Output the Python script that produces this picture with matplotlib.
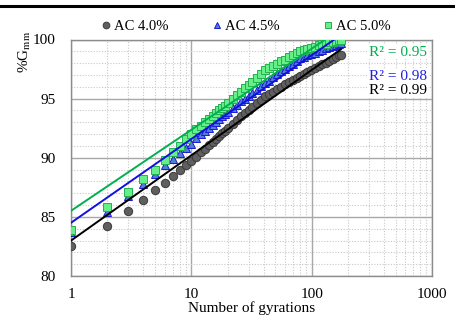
import numpy as np
import matplotlib
matplotlib.use('Agg')
import matplotlib.pyplot as plt
from matplotlib.lines import Line2D
from matplotlib.ticker import LogLocator, MultipleLocator, NullFormatter

plt.rcParams['font.family'] = ['Liberation Serif', 'DejaVu Serif']
plt.rcParams['mathtext.fontset'] = 'stix'

gyrations = [1, 2, 3, 4, 5, 6, 7, 8, 9, 10, 11, 12, 13, 14, 15, 16, 17, 18, 19, 20,
             22, 24, 26, 28, 30, 32, 35, 38, 41, 44, 48, 52, 56, 60, 65, 70, 75, 80,
             86, 92, 99, 106, 114, 122, 131, 140, 150, 160, 170, 175]

ac40 = [82.5, 84.2, 85.5, 86.45, 87.25, 87.9, 88.45, 88.95, 89.4, 89.75, 90.1, 90.45,
        90.75, 91.05, 91.35, 91.6, 91.85, 92.1, 92.3, 92.5,
        92.85, 93.2, 93.5, 93.75, 94.0, 94.25, 94.6, 94.9, 95.2, 95.4, 95.6, 95.8, 96.0,
        96.2, 96.4, 96.6, 96.75, 96.9,
        97.1, 97.25, 97.4, 97.55, 97.75, 97.9, 98.05, 98.2, 98.35, 98.5, 98.65, 98.7]

ac45 = [83.7, 85.45, 86.8, 87.75, 88.6, 89.35, 89.9, 90.4, 90.8, 91.2, 91.7, 92.0,
        92.3, 92.55, 92.8, 93.05, 93.3, 93.5, 93.7, 93.9,
        94.2, 94.5, 94.8, 95.0, 95.25, 95.45, 95.75, 96.05, 96.3, 96.5, 96.8, 97.05, 97.3,
        97.5, 97.75, 97.95, 98.2, 98.4,
        98.55, 98.65, 98.8, 98.9, 99.05, 99.15, 99.25, 99.35, 99.45, 99.55, 99.65, 99.7]

ac50 = [83.9, 85.8, 87.1, 88.2, 89.0, 89.8, 90.45, 91.0, 91.6, 92.0, 92.4, 92.7,
        93.0, 93.25, 93.5, 93.75, 94.0, 94.2, 94.4, 94.6,
        94.95, 95.3, 95.6, 95.9, 96.15, 96.4, 96.75, 97.1, 97.4, 97.55, 97.75, 97.95, 98.15,
        98.3, 98.5, 98.65, 98.85, 99.0,
        99.1, 99.2, 99.3, 99.4, 99.5, 99.6, 99.65, 99.75, 99.8, 99.9, 99.95, 100.0]

labels = ['AC 4.0%', 'AC 4.5%', 'AC 5.0%']
r2_labels = ['R² = 0.99', 'R² = 0.98', 'R² = 0.95']

fig = plt.figure(figsize=(4.55, 3.22), dpi=100)
ax = fig.add_axes([71 / 455, 46 / 322, 361 / 455, 236.5 / 322])

N = np.array(gyrations, dtype=float)
# each sample stands for the gyrations up to the next one (trendline over all gyrations)
gaps = np.diff(np.append(N, N[-1] + 1))

styles = [
    dict(marker='o', ms=6.0, mfc='#5f5f5f', mec='#3a3a3a', line='#000000'),
    dict(marker='^', ms=5.8, mfc='#4f7fd8', mec='#1a1ad0', line='#1010e0'),
    dict(marker='s', ms=5.5, mfc='#66ee88', mec='#22b050', line='#00b050'),
]
series = [ac40, ac45, ac50]

for y, st, lab in zip(series, styles, labels):
    ax.plot(N, y, linestyle='none', marker=st['marker'], ms=st['ms'],
            mfc=st['mfc'], mec=st['mec'], mew=0.7, label=lab, zorder=3)

xfit = np.linspace(0, np.log(N[-1]), 100)
for y, st in zip(series, styles):
    a, b = np.polyfit(np.log(N), y, 1, w=np.sqrt(gaps))
    ax.plot(np.exp(xfit), a * xfit + b, color=st['line'], lw=1.4, zorder=4)

ax.set_xscale('log')
ax.set_xlim(1, 1000)
ax.set_ylim(80, 100)
ax.yaxis.set_major_locator(MultipleLocator(5))
ax.yaxis.set_minor_locator(MultipleLocator(1))
ax.xaxis.set_major_locator(LogLocator(base=10))
ax.xaxis.set_minor_locator(LogLocator(base=10, subs=np.arange(2, 10)))
ax.xaxis.set_minor_formatter(NullFormatter())
ax.set_xticks([1, 10, 100, 1000])
ax.set_xticklabels(['1', '10', '100', '1000'])
ax.grid(which='major', color='#a8a8a8', lw=1.0)
ax.grid(which='minor', color='#c8c8c8', lw=0.8, linestyle=(0, (1, 1.5)))
ax.set_axisbelow(True)
ax.tick_params(which='both', length=0, labelsize=11)
ax.tick_params(axis='x', pad=9)
ax.tick_params(axis='y', pad=11)
for sp in ax.spines.values():
    sp.set_color('#8c8c8c')
    sp.set_linewidth(1.0)

ax.set_xlabel('Number of gyrations', fontsize=11, labelpad=0)
fig.text(25 / 455, 1 - 52 / 322, r'%G$_{\mathrm{mm}}$', rotation=90,
         fontsize=11, ha='center', va='center')

r2_colors = ['#000000', '#2020e0', '#00b050']
r2_y = [91, 76, 52]
for txt, c, yy in zip(r2_labels, r2_colors, r2_y):
    ax.text(427 / 455, 1 - yy / 322, txt, transform=fig.transFigure, color=c,
            fontsize=11, ha='right', va='center', zorder=6,
            bbox=dict(facecolor='white', edgecolor='none', pad=0.6))

ax.legend(loc='lower center', bbox_to_anchor=(0.485, 0.985), ncol=3, frameon=False,
          fontsize=10.5, handlelength=0.6, handletextpad=0.25, columnspacing=3.0,
          markerscale=0.8, borderaxespad=0.3)

fig.add_artist(Line2D([0, 1], [1 - 6 / 322] * 2, transform=fig.transFigure,
                      color='black', lw=2.2))

fig.savefig('out.png', dpi=100)
